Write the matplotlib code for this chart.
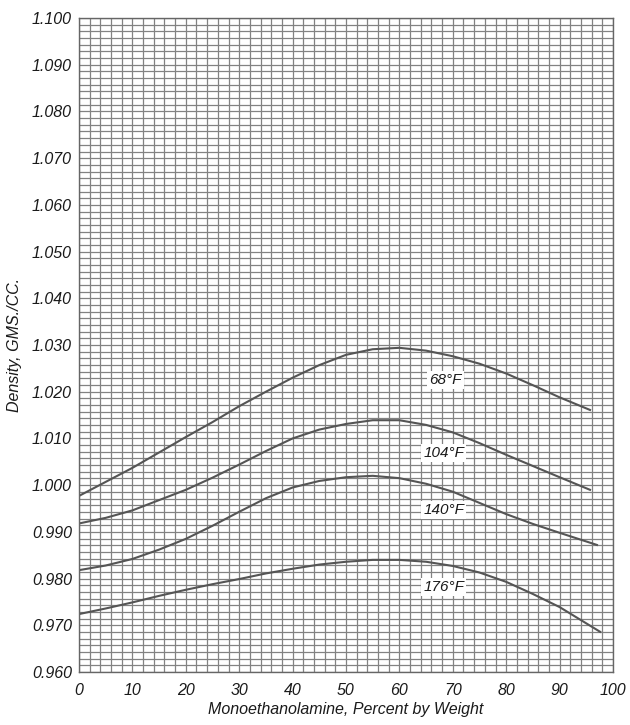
import numpy as np
import matplotlib
matplotlib.use("Agg")
import matplotlib.pyplot as plt
from matplotlib.ticker import MultipleLocator, FormatStrFormatter

# densities (GMS./CC.) vs weight percent MEA
pct = [0, 5, 10, 15, 20, 25, 30, 35, 40, 45, 50, 55, 60, 65, 70, 75, 80, 85, 90]

pct_68 = pct + [95.7]
dens_68 = [0.9977, 1.0007, 1.0037, 1.0070, 1.0103, 1.0135, 1.0169, 1.0200, 1.0230,
           1.0257, 1.0279, 1.0291, 1.0294, 1.0288, 1.0276, 1.0260, 1.0239, 1.0214,
           1.0188, 1.0161]

pct_104 = pct + [95.7]
dens_104 = [0.9918, 0.9930, 0.9946, 0.9968, 0.9990, 1.0016, 1.0044, 1.0073, 1.0100,
            1.0119, 1.0131, 1.0139, 1.0139, 1.0129, 1.0113, 1.0090, 1.0065, 1.0041,
            1.0017, 0.9990]

pct_140 = pct + [97.0]
dens_140 = [0.9818, 0.9828, 0.9842, 0.9862, 0.9885, 0.9913, 0.9943, 0.9972, 0.9995,
            1.0009, 1.0017, 1.0020, 1.0015, 1.0003, 0.9986, 0.9962, 0.9938, 0.9917,
            0.9898, 0.9872]

pct_176 = pct + [97.6]
dens_176 = [0.9724, 0.9736, 0.9749, 0.9763, 0.9776, 0.9788, 0.9799, 0.9811, 0.9821,
            0.9830, 0.9836, 0.9840, 0.9840, 0.9836, 0.9827, 0.9813, 0.9793, 0.9767,
            0.9739, 0.9686]

labels = ["68°F", "104°F", "140°F", "176°F"]
label_x = [68.6, 68.3, 68.3, 68.3]
label_y = [1.0225, 1.0069, 0.9947, 0.9782]

plt.rcParams['font.family'] = ['Liberation Sans', 'DejaVu Sans']

fig = plt.figure(figsize=(6.3, 7.25), dpi=100)
ax = fig.add_axes([0.1254, 0.0731, 0.8476, 0.902])

grid_col = "#828282"
ax.set_xlim(0, 100)
ax.set_ylim(0.960, 1.100)
ax.xaxis.set_major_locator(MultipleLocator(10))
ax.xaxis.set_minor_locator(MultipleLocator(2))
ax.yaxis.set_major_locator(MultipleLocator(0.010))
ax.yaxis.set_minor_locator(MultipleLocator(0.010 / 7))
ax.yaxis.set_major_formatter(FormatStrFormatter('%.3f'))
ax.grid(which='both', color=grid_col, lw=0.9)
ax.set_axisbelow(True)
ax.tick_params(which='both', length=0, labelcolor="#1a1a1a")
ax.tick_params(axis='y', pad=5, labelsize=11.5)
ax.tick_params(axis='x', pad=8, labelsize=11.5)
for lab in ax.get_xticklabels() + ax.get_yticklabels():
    lab.set_fontstyle('italic')
for s in ax.spines.values():
    s.set_color("#666666")
    s.set_linewidth(1.0)

line_col = "#555555"
for xs, ys in [(pct_68, dens_68), (pct_104, dens_104),
               (pct_140, dens_140), (pct_176, dens_176)]:
    ax.plot(xs, ys, color=line_col, lw=1.5)

for t, lx, ly in zip(labels, label_x, label_y):
    ax.text(lx, ly, t, fontsize=11, style='italic', ha='center', va='center',
            color="#1a1a1a",
            bbox=dict(facecolor='white', edgecolor='none', pad=1.5))

ax.set_xlabel("Monoethanolamine, Percent by Weight", fontsize=11.5,
              style='italic', labelpad=3, color="#1a1a1a")
ax.set_ylabel("Density, GMS./CC.", fontsize=11.5, style='italic', labelpad=7,
              color="#1a1a1a")

fig.savefig("out.png", dpi=100)
